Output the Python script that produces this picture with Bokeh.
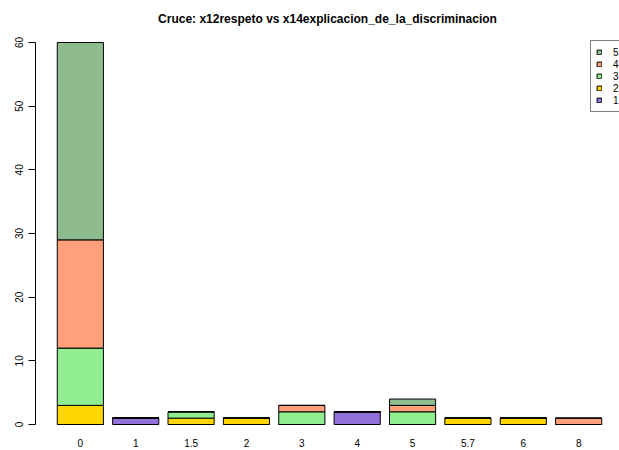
from bokeh.plotting import figure
from bokeh.models import ColumnDataSource, Range1d, FixedTicker, Legend, LegendItem
from bokeh.embed import file_html
from bokeh.resources import INLINE

categories = ["0", "1", "1.5", "2", "3", "4", "5", "5.7", "6", "8"]
series_names = ["1", "2", "3", "4", "5"]
s1 = [0, 1, 0, 0, 0, 2, 0, 0, 0, 0]
s2 = [3, 0, 1, 1, 0, 0, 0, 1, 1, 0]
s3 = [9, 0, 1, 0, 2, 0, 2, 0, 0, 0]
s4 = [17, 0, 0, 0, 1, 0, 1, 0, 0, 1]
s5 = [31, 0, 0, 0, 0, 0, 1, 0, 0, 0]
colors = ["#9370DB", "#FFD700", "#90EE90", "#FFA07A", "#8FBC8F"]
y_ticks = [0, 10, 20, 30, 40, 50, 60]

# R barplot style positions: width 1, space 0.2
xs = [0.7 + 1.2 * i for i in range(len(categories))]

src = ColumnDataSource(dict(x=xs, s1=s1, s2=s2, s3=s3, s4=s4, s5=s5))

p = figure(width=619, height=450, output_backend="svg", toolbar_location=None,
           x_range=Range1d(-0.272, 12.385), y_range=Range1d(-0.314, 62.356),
           min_border_left=35, min_border_right=0, min_border_top=27, min_border_bottom=24)

renderers = p.vbar_stack(["s1", "s2", "s3", "s4", "s5"], x="x", width=1.0, source=src,
                         fill_color=colors, line_color="black", line_width=1)

p.title.text = "Cruce: x12respeto vs x14explicacion_de_la_discriminacion"
p.title.align = "center"
p.title.text_font = "Liberation Sans"
p.title.text_font_size = "12px"
p.title.text_font_style = "bold"
p.title.text_color = "black"
p.title.standoff = 3

p.xgrid.visible = False
p.ygrid.visible = False
p.outline_line_color = None

xa = p.xaxis[0]
xa.ticker = FixedTicker(ticks=xs)
xa.major_label_overrides = {x: c for x, c in zip(xs, categories)}
xa.axis_line_color = None
xa.major_tick_line_color = None
xa.major_tick_out = 0
xa.major_tick_in = 0
xa.minor_tick_line_color = None
xa.major_label_standoff = 12
xa.major_label_text_font = "Liberation Sans"
xa.major_label_text_font_size = "10px"
xa.major_label_text_color = "black"

ya = p.yaxis[0]
ya.ticker = FixedTicker(ticks=y_ticks)
ya.bounds = (0, 60)
ya.axis_line_color = "black"
ya.major_tick_line_color = "black"
ya.major_tick_out = 7
ya.major_tick_in = 0
ya.minor_tick_line_color = None
ya.major_label_orientation = "vertical"
ya.major_label_standoff = 5
ya.major_label_text_font = "Liberation Sans"
ya.major_label_text_font_size = "10px"
ya.major_label_text_color = "black"

items = [LegendItem(label=series_names[k], renderers=[renderers[k]]) for k in reversed(range(5))]
legend = Legend(items=items, location=(555, 314), padding=5, spacing=0, margin=0,
                label_height=12, glyph_height=6, glyph_width=6, label_standoff=11,
                border_line_color="black", border_line_width=1,
                label_text_font="Liberation Sans", label_text_font_size="10px",
                label_text_color="black", background_fill_color="white")
p.add_layout(legend)

open("out.html", "w").write(file_html(p, INLINE))
